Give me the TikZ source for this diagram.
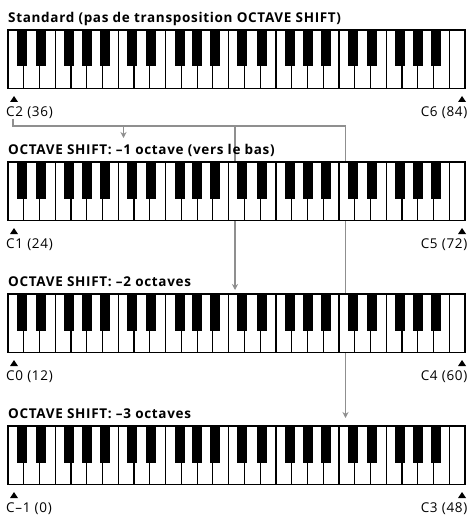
\documentclass[tikz,border=0pt]{standalone}
\usepackage{fontspec}
\setmainfont[LetterSpace=5]{Open Sans}
\usetikzlibrary{arrows.meta,positioning,backgrounds}
\definecolor{linkgray}{gray}{0.56}

\begin{document}
\begin{tikzpicture}[x=1pt, y=-1pt,
    link/.style={draw=linkgray, line width=1.4pt},
    keyline/.style={draw=black, line width=1.2pt},
    title/.style={font=\bfseries\fontsize{13.5}{15}\selectfont, anchor=base west, inner sep=0pt},
    note/.style={font=\fontsize{13.5}{15}\selectfont, inner sep=0pt}]
    \useasboundingbox (0,0) rectangle (469,516);
    %клавиатуры
    \foreach \yk/\i/\txt/\lo/\hi in {30/1/{Standard (pas de transposition OCTAVE SHIFT)}/{C2 (36)}/{C6 (84)},
        162/2/{OCTAVE SHIFT: –1 octave (vers le bas)}/{C1 (24)}/{C5 (72)},
        294/3/{OCTAVE SHIFT: –2 octaves}/{C0 (12)}/{C4 (60)},
        426/4/{OCTAVE SHIFT: –3 octaves}/{C–1 (0)}/{C3 (48)}}{
        \node[title] (title\i) at (8,\yk-7.5) {\txt};
        %белые клавиши
        \foreach \k in {0,...,28}
            \draw[keyline, fill=white] (8+\k*15.76,\yk) rectangle ++(15.76,58.5);
        %чёрные клавиши
        \foreach \o in {0,...,3}
            \foreach \b in {0.55,1.78,3.57,4.70,5.84}
                \fill[black] (8+\o*110.32+\b*15.76,\yk) rectangle ++(10,36.5);
        \draw[black, line width=1.6pt] (8,\yk) rectangle ++(457,58.5);
        %метки
        \fill[black] (10,\yk+72) -- ++(8,0) -- ++(-4,-6) -- cycle;
        \fill[black] (458,\yk+72) -- ++(8,0) -- ++(-4,-6) -- cycle;
        \node[note, anchor=base west] (lo\i) at (6,\yk+86.5) {\lo};
        \node[note, anchor=base east] (hi\i) at (467.5,\yk+86.5) {\hi};
    }
    %стрелки
    \coordinate (fork) at (13,126);
    \coordinate (busend) at (345.5,126);
    \coordinate (tip2) at (123.5,138);
    \coordinate (tip3) at (235,290);
    \coordinate (tip4) at (345.5,418);
    \begin{scope}[on background layer]
        \draw[link] (lo1.south -| fork) -- (fork) -- (busend);
        \draw[link, -{Stealth[length=6pt,width=6pt]}] (busend) -- (tip4);
        \draw[link, -{Stealth[length=6pt,width=6pt]}] (fork -| tip2) -- (tip2);
        \draw[link, -{Stealth[length=6pt,width=6pt]}] (fork -| tip3) -- (tip3);
    \end{scope}
\end{tikzpicture}
\end{document}
